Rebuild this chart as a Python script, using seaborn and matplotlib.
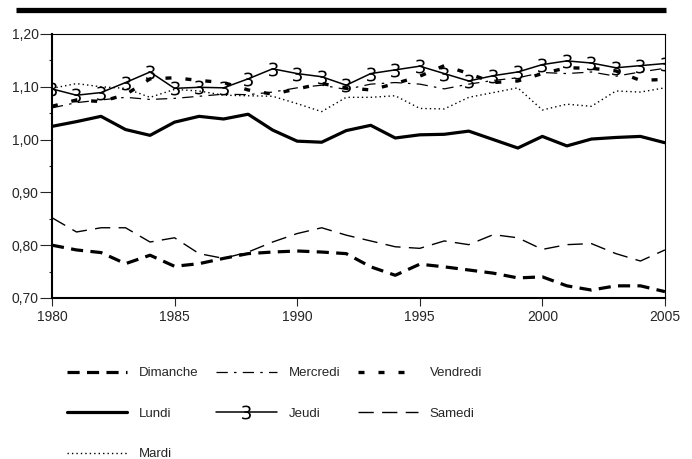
import matplotlib
matplotlib.use("Agg")
import matplotlib.pyplot as plt
import seaborn as sns
import numpy as np
from matplotlib.ticker import FuncFormatter, MultipleLocator
from matplotlib.lines import Line2D

# Data
years = list(range(1980, 2006))

dimanche = [0.800, 0.791, 0.786, 0.765, 0.781, 0.760, 0.765, 0.775, 0.784, 0.787,
            0.789, 0.787, 0.784, 0.759, 0.743, 0.764, 0.759, 0.753, 0.747, 0.738,
            0.740, 0.723, 0.715, 0.723, 0.723, 0.712]
lundi = [1.025, 1.034, 1.044, 1.019, 1.008, 1.033, 1.044, 1.039, 1.048, 1.018,
         0.997, 0.995, 1.017, 1.027, 1.003, 1.009, 1.010, 1.016, 1.000, 0.984,
         1.006, 0.988, 1.001, 1.004, 1.006, 0.994]
mardi = [1.097, 1.106, 1.100, 1.097, 1.080, 1.095, 1.092, 1.084, 1.083, 1.082,
         1.068, 1.053, 1.080, 1.080, 1.083, 1.059, 1.058, 1.080, 1.089, 1.098,
         1.056, 1.067, 1.063, 1.092, 1.090, 1.098]
mercredi = [1.060, 1.070, 1.075, 1.080, 1.076, 1.078, 1.082, 1.086, 1.085, 1.090,
            1.098, 1.103, 1.095, 1.105, 1.108, 1.105, 1.096, 1.105, 1.112, 1.117,
            1.127, 1.125, 1.128, 1.120, 1.128, 1.135]
jeudi = [1.096, 1.084, 1.089, 1.108, 1.128, 1.097, 1.099, 1.098, 1.115, 1.134,
         1.125, 1.119, 1.103, 1.125, 1.132, 1.139, 1.125, 1.111, 1.121, 1.128,
         1.142, 1.149, 1.145, 1.136, 1.140, 1.144]
vendredi = [1.063, 1.075, 1.072, 1.085, 1.115, 1.117, 1.112, 1.108, 1.094, 1.086,
            1.096, 1.106, 1.098, 1.094, 1.106, 1.120, 1.140, 1.125, 1.108, 1.111,
            1.125, 1.136, 1.135, 1.130, 1.112, 1.114]
samedi = [0.852, 0.825, 0.833, 0.833, 0.806, 0.814, 0.784, 0.775, 0.787, 0.806,
          0.822, 0.833, 0.819, 0.808, 0.797, 0.794, 0.808, 0.801, 0.820, 0.814,
          0.792, 0.801, 0.803, 0.784, 0.770, 0.791]

sns.set_style("white")
plt.rcParams['font.family'] = ['Liberation Sans', 'DejaVu Sans']

fig = plt.figure(figsize=(6.92, 4.59), dpi=100)
ax = fig.add_axes([0.0751, 0.3508, 0.8858, 0.5752])

# (series, label, style kwargs)
series = [
    (dimanche, "Dimanche", dict(lw=2.3, linestyle=(0, (3.8, 2.3)))),
    (lundi, "Lundi", dict(lw=2.3, linestyle="-")),
    (mardi, "Mardi", dict(lw=1.0, linestyle=(0, (1, 2.2)))),
    (mercredi, "Mercredi", dict(lw=0.9, linestyle=(0, (9, 5, 2, 5)))),
    (jeudi, "Jeudi", dict(lw=1.1, linestyle="-", marker="$3$", markersize=10,
                          markeredgewidth=0, markeredgecolor="black",
                          markerfacecolor="black")),
    (vendredi, "Vendredi", dict(lw=2.4, linestyle=(0, (1.8, 4.2)))),
    (samedi, "Samedi", dict(lw=1.0, linestyle=(0, (11, 6)))),
]

for vals, name, kws in series:
    sns.lineplot(x=years, y=vals, ax=ax, color="black", label=name, **kws)

ax.set_xlim(1980, 2005)
ax.set_ylim(0.70, 1.20)
ax.xaxis.set_major_locator(MultipleLocator(5))
ax.yaxis.set_major_locator(MultipleLocator(0.1))
ax.yaxis.set_minor_locator(MultipleLocator(0.05))
ax.yaxis.set_major_formatter(FuncFormatter(lambda v, p: f"{v:.2f}".replace(".", ",")))

ax.tick_params(axis="y", which="major", direction="out", length=8.5, width=0.8,
               pad=1, labelsize=10, left=True)
ax.tick_params(axis="y", which="minor", direction="out", length=2.5, width=0.8, left=True)
ax.tick_params(axis="x", which="major", direction="out", length=5.5, width=0.8,
               pad=3, labelsize=10, bottom=True)

for side in ["left", "bottom"]:
    ax.spines[side].set_linewidth(1.5)
for side in ["top", "right"]:
    ax.spines[side].set_linewidth(0.8)
for sp in ax.spines.values():
    sp.set_color("black")

ax.set_xlabel("")
ax.set_ylabel("")

# thick black rule at the top of the figure
fig.add_artist(Line2D([16 / 692, 666 / 692], [1 - 10 / 459, 1 - 10 / 459],
                      color="black", lw=3.8, solid_capstyle="butt"))

handles, labels = ax.get_legend_handles_labels()
ax.get_legend().remove()
fig.legend(handles, labels, ncol=3, loc="upper left",
           bbox_to_anchor=(67 / 692, 1 - 367 / 459), frameon=False,
           fontsize=9.5, handlelength=4.55, handletextpad=0.9,
           columnspacing=1.36, labelspacing=2.15, borderpad=0, borderaxespad=0)

fig.savefig("out.png", dpi=100)
